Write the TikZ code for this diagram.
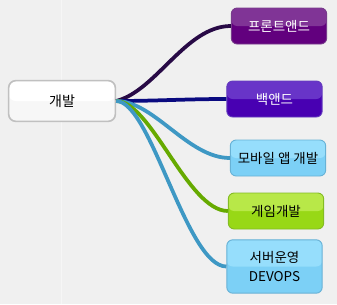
\documentclass[tikz,border=0pt]{standalone}
\usepackage{fontspec}
\setmainfont{Noto Sans CJK KR}
\usepackage{tikz}
\usetikzlibrary{positioning, calc}
\definecolor{bggray}{RGB}{240,240,240}
\definecolor{rootline}{RGB}{192,192,192}
\definecolor{roottop}{RGB}{255,255,255}
\definecolor{rootbot}{RGB}{247,247,247}
\definecolor{fronttop}{RGB}{128,52,150}
\definecolor{frontbot}{RGB}{98,0,126}
\definecolor{frontline}{RGB}{120,60,140}
\definecolor{backtop}{RGB}{104,52,200}
\definecolor{backbot}{RGB}{72,0,178}
\definecolor{backline}{RGB}{100,60,190}
\definecolor{skytop}{RGB}{150,222,252}
\definecolor{skybot}{RGB}{124,208,246}
\definecolor{skyline}{RGB}{104,178,214}
\definecolor{limetop}{RGB}{184,232,72}
\definecolor{limebot}{RGB}{152,216,22}
\definecolor{limeline}{RGB}{132,188,36}
\definecolor{linkfront}{RGB}{40,10,70}
\definecolor{linkback}{RGB}{10,10,128}
\definecolor{linksky}{RGB}{62,152,196}
\definecolor{linklime}{RGB}{102,170,0}
\tikzset{
  gloss/.style={path picture={\fill[#1] (path picture bounding box.north west)
    rectangle (path picture bounding box.east);}},
  branch/.style={rectangle, rounded corners=5pt, line width=0.8pt, align=center,
    minimum width=2.86cm, minimum height=1.08cm, inner sep=1pt,
    font=\fontsize{11.5}{16}\selectfont},
  rootblock/.style={rectangle, rounded corners=6pt, line width=1.4pt, align=center,
    draw=rootline, fill=rootbot, gloss=roottop, minimum width=3.2cm,
    minimum height=1.22cm, font=\fontsize{12}{14}\selectfont},
  frontblock/.style={branch, draw=frontline, fill=frontbot, gloss=fronttop, text=white},
  backblock/.style={branch, draw=backline, fill=backbot, gloss=backtop, text=white},
  skyblock/.style={branch, draw=skyline, fill=skybot, gloss=skytop},
  limeblock/.style={branch, draw=limeline, fill=limebot, gloss=limetop},
  link/.style={line width=3.2pt}
}
\begin{document}
\begin{tikzpicture}[x=0.03cm, y=-0.03cm]
  % background
  \fill[bggray] (0,0) rectangle (337,304);
  \useasboundingbox (0,0) rectangle (337,304);
  \draw[white!40!bggray, line width=0.6pt] (61,0) -- (61,304);

  % centre node
  \node[rootblock] (dev) at (62,101) {개발};

  % branches
  \node[frontblock] (front) at (279,26) {프론트앤드};
  \node[backblock] (back) at (274.5,99) {백앤드};
  \node[skyblock] (mobile) at (278,158) {모바일 앱 개발};
  \node[limeblock] (game) at (276,211) {게임개발};
  \node[skyblock, minimum height=1.6cm] (devops) at (274.5,266.5) {서버운영\\DEVOPS};

  % connectors
  \draw[link, linkfront] (dev.east) .. controls +(40,-10) and +(-45,0) .. (front.west);
  \draw[link, linkback] (dev.east) .. controls +(40,0) and +(-40,0) .. (back.west);
  \draw[link, linksky] (dev.east) .. controls +(38,0) and +(-42,0) .. (mobile.west);
  \draw[link, linklime] (dev.east) .. controls +(35,0) and +(-40,0) .. (game.west);
  \draw[link, linksky] (dev.east) .. controls +(35,0) and +(-40,0) .. (devops.west);
\end{tikzpicture}
\end{document}
